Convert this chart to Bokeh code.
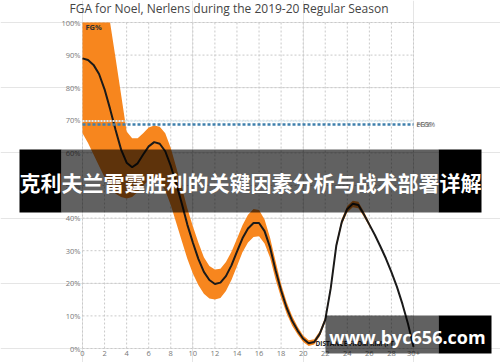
from bokeh.plotting import figure
from bokeh.models import Range1d
from bokeh.core.properties import value
from bokeh.embed import file_html
from bokeh.resources import INLINE

# ---------------- data ----------------
title_text = "FGA for Noel, Nerlens during the 2019-20 Regular Season"
banner_text = "克利夫兰雷霆胜利的关键因素分析与战术部署详解"
watermark_text = "www.byc656.com"

x_ft = [0, 0.5, 1, 1.5, 2, 2.5, 3, 3.5, 4, 4.5, 5, 5.5, 6, 6.5, 7, 7.5, 8, 8.5, 9, 9.5,
        10, 10.5, 11, 11.5, 12, 12.5, 13, 13.5, 14, 14.5, 15, 15.5, 16, 16.5, 17, 17.5,
        18, 18.5, 19, 19.5, 20, 20.5, 21, 21.5, 22, 22.5, 23, 23.5, 24, 24.5, 25, 25.5,
        26, 26.5, 27, 27.5, 28, 28.5, 29, 29.5, 30]
fg_pct = [89, 88.5, 87, 84.2, 79.5, 73.5, 67, 61, 57, 55.6, 56.8, 59.5, 62, 63.3, 62.8, 60.5,
          56, 50.5, 44.5, 38, 32.5, 27.5, 23.5, 21, 19.8, 20.2, 22.2, 25.5, 29.7, 33.8, 36.8,
          38.5, 38.5, 36, 31, 24, 17.8, 12.5, 8.5, 5.5, 3, 1.6, 2.0, 4.5, 8.8, 18.5, 31.5, 38.8,
          42.8, 44.4, 44, 41.2, 38, 34.8, 31.3, 27.6, 23.4, 18.9, 13.6, 7.6, 0.5]
band_hi = [100, 100, 100, 100, 100, 100, 89, 77.8, 66.6, 64.5, 64.5, 66, 67.8, 68.4, 68, 66,
           61.5, 55.5, 49.5, 43, 37.5, 32.5, 28, 25.3, 24.2, 24.5, 26.5, 29.7, 33.7, 37.8, 41,
           42.8, 42.5, 39.6, 34, 26.8, 19.8, 14.3, 10, 6.7, 4, 2.5, 2.8, 5.3, 9.6, 19.3, 32.3,
           39.8, 43.8, 45.3, 45, 42, 38.6, 34.8, 31.3, 27.6, 23.4, 18.9, 13.6, 7.6, 0.5]
band_lo = [66, 63, 59.5, 56, 52.5, 49.5, 47.5, 46.5, 46, 46.5, 48, 50, 51.5, 52, 51, 48.5,
           44, 38.5, 33, 27.5, 23, 19.5, 16.8, 15.3, 15, 15.5, 17.6, 21, 25.2, 29.5, 32.5,
           34.2, 34.4, 32.2, 27.8, 21.2, 15.6, 10.7, 7, 4.3, 2, 0.8, 1.2, 3.7, 8, 17.7, 30.7,
           38, 41.8, 43.3, 43, 40.4, 37.4, 34.8, 31.3, 27.6, 23.4, 18.9, 13.6, 7.6, 0.5]

fg_ref = 68.7        # season FG% reference line
efg_ref = 69.8       # season eFG% reference line
ref_labels = ["eFG%", "FG%"]

x_ticks = [0, 2, 4, 6, 8, 10, 12, 14, 16, 18, 20, 22, 24, 26, 28, 30]
x_tick_labels = ["0", "2", "4", "6", "8", "10", "12", "14", "16", "18", "20", "22", "24",
                 "26", "28", "30+"]
y_ticks = [0, 10, 20, 30, 40, 50, 60, 70, 80, 90, 100]
y_tick_labels = ["0%", "10%", "20%", "30%", "40%", "50%", "60%", "70%", "80%", "90%", "100%"]

# ---------------- layout helpers (pixel -> data) ----------------
W, H = 500, 362
X0_PX, X30_PX = 82.0, 413.0
Y0_PX, Y100_PX = 348.0, 22.0
SX = (X30_PX - X0_PX) / 30.0
SY = (Y0_PX - Y100_PX) / 100.0


def dx(px):
    return (px - X0_PX) / SX


def dy(py):
    return (Y0_PX - py) / SY


p = figure(width=W, height=H, min_border=0, x_axis_location=None, y_axis_location=None,
           toolbar_location=None, output_backend="svg", outline_line_color=None,
           x_range=Range1d(dx(0), dx(W)), y_range=Range1d(dy(H), dy(0)))
p.background_fill_color = "white"
p.border_fill_color = "white"

FONT = value("Open Sans")
grid_col = "#c9c9c9"

# grid
p.segment(x0=x_ticks, x1=x_ticks, y0=[0] * len(x_ticks), y1=[100] * len(x_ticks),
          line_color=grid_col, line_width=1, line_dash="2 2")
p.segment(x0=[0] * len(y_ticks), x1=[30] * len(y_ticks), y0=y_ticks, y1=y_ticks,
          line_color=grid_col, line_width=1, line_dash="2 2")

# tick labels
p.text(x=[dx(80)] * len(y_ticks), y=y_ticks, text=y_tick_labels, text_font=FONT,
       text_font_size=value("7.5px"), text_color="#777777", text_align="right",
       text_baseline="middle")
p.text(x=x_ticks, y=[dy(353)] * len(x_ticks), text=x_tick_labels, text_font=FONT,
       text_font_size=value("7.5px"), text_color="#777777", text_align="center",
       text_baseline="middle")

# band and line
p.varea(x=x_ft, y1=band_lo, y2=band_hi, fill_color="#f7861e", fill_alpha=1.0)
p.line(x=x_ft, y=fg_pct, line_color="#1a1a1a", line_width=2)

# reference lines (drawn over the band)
p.line(x=[0, 30], y=[efg_ref, efg_ref], line_color="#dce9ef", line_width=2, line_dash="2 1")
p.line(x=[0, 30], y=[fg_ref, fg_ref], line_color="#3f80ad", line_width=2.5, line_dash="3 2")
p.text(x=[dx(416)] * 2, y=[fg_ref, fg_ref], text=ref_labels, text_font=FONT,
       text_font_size=value("7px"), text_color="#666666", text_align="left",
       text_baseline="middle")

# inside labels
p.text(x=[dx(85)], y=[dy(26.5)], text=["FG%"], text_font=FONT, text_font_size=value("7.5px"),
       text_font_style="bold", text_color="#333333", text_align="left", text_baseline="middle")
p.text(x=[dx(315)], y=[dy(343)], text=["DISTANCE FROM RIM (FT.)"], text_font=FONT,
       text_font_size=value("6.5px"), text_font_style="bold", text_color="#222222",
       text_align="left", text_baseline="middle")

# title
p.text(x=[dx(69)], y=[dy(8)], text=[title_text], text_font=FONT,
       text_font_size=value("12px"), text_color="#444444", text_align="left",
       text_baseline="middle")

# banner overlay
p.quad(left=[dx(19), dx(438)], right=[dx(61), dx(481)], bottom=[dy(212)] * 2, top=[dy(149)] * 2,
       fill_color="black", fill_alpha=1.0, line_color=None)
p.quad(left=[dx(61)], right=[dx(438)], bottom=[dy(212)], top=[dy(149)],
       fill_color="black", fill_alpha=0.62, line_color=None)
p.text(x=[dx(250)], y=[dy(181)], text=[banner_text], text_font=value("Noto Sans CJK SC"),
       text_font_size=value("21px"), text_font_style="bold", text_color="white",
       text_align="center", text_baseline="middle")

# watermark overlay
p.quad(left=[dx(438)], right=[dx(491)], bottom=[dy(353)], top=[dy(315)],
       fill_color="black", fill_alpha=1.0, line_color=None)
p.quad(left=[dx(325)], right=[dx(438)], bottom=[dy(353)], top=[dy(315)],
       fill_color="black", fill_alpha=0.62, line_color=None)
p.text(x=[dx(407)], y=[dy(336)], text=[watermark_text], text_font=value("Open Sans"),
       text_font_size=value("18px"), text_font_style="bold", text_color="white",
       text_align="center", text_baseline="middle")

open("out.html", "w").write(file_html(p, INLINE))
